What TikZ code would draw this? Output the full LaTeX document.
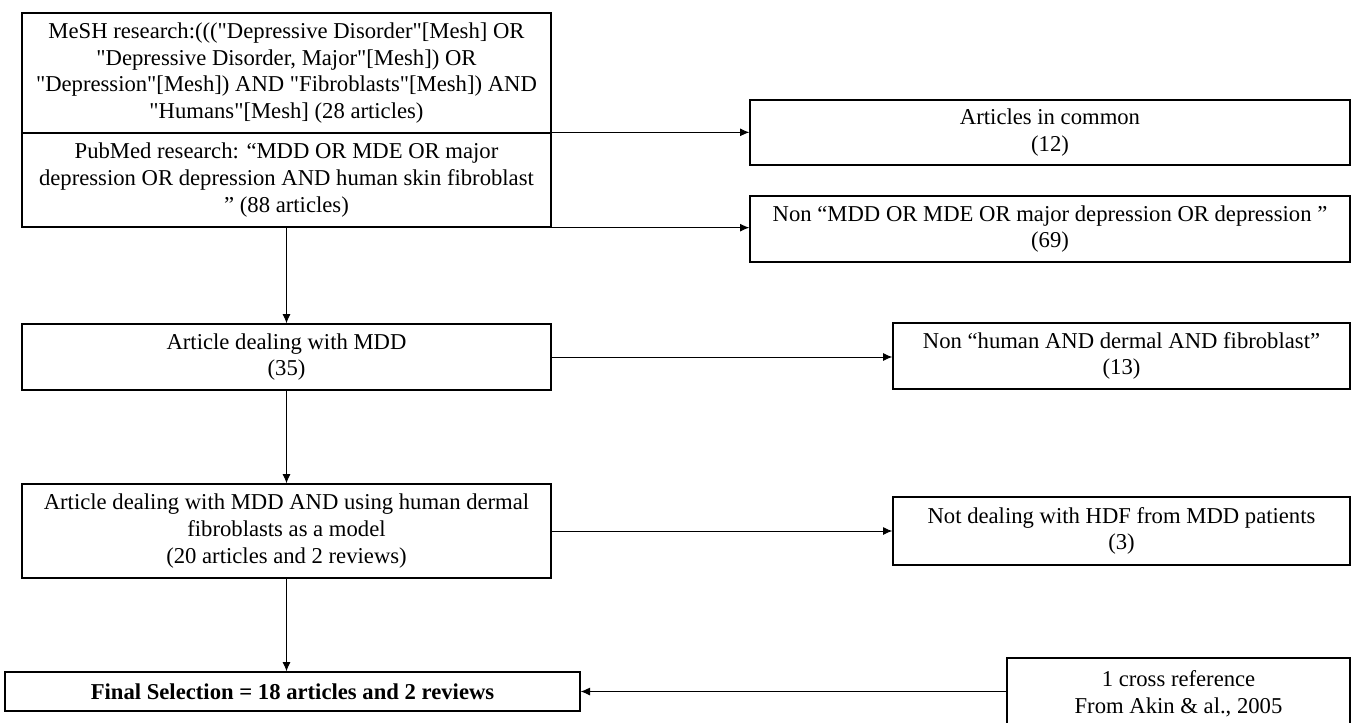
\documentclass[tikz,border=0pt]{standalone}
\usepackage{fontspec}
\setmainfont{Liberation Serif}[Ligatures=TeXOff]
\usetikzlibrary{arrows.meta}
\begin{document}
\begin{tikzpicture}[x=0.75pt,y=-0.75pt,
  box/.style={draw, line width=1pt, inner sep=0pt, align=center,
    font=\fontsize{17pt}{20pt}\selectfont},
  conn/.style={-{Latex[length=7pt,width=6pt]}, line width=0.7pt}]
\clip (0,0) rectangle (1351,722);
\fill[white] (0,0) rectangle (1351,722);
\node[box, minimum width=396.75pt, minimum height=90pt] (mesh) at (286.5,73)
  {MeSH research:((("Depressive Disorder"[Mesh] OR\\ "Depressive Disorder, Major"[Mesh]) OR\\ "Depression"[Mesh]) AND "Fibroblasts"[Mesh]) AND\\ "Humans"[Mesh] (28 articles)};
\node[box, minimum width=396.75pt, minimum height=70.5pt] (pub) at (286.5,180)
  {PubMed research: “MDD OR MDE OR major\\ depression OR depression AND human skin fibroblast\\ ” (88 articles)};
\node[box, minimum width=450pt, minimum height=48.75pt] (common) at (1050,132.5)
  {Articles in common\\ (12)};
\node[box, minimum width=450pt, minimum height=49.5pt] (nonmdd) at (1050,229)
  {Non “MDD OR MDE OR major depression OR depression ”\\ (69)};
\node[box, minimum width=396.75pt, minimum height=49.5pt] (mdd) at (286.5,357)
  {Article dealing with MDD\\ (35)};
\node[box, minimum width=342.75pt, minimum height=49.5pt] (nonhuman) at (1121.5,356)
  {Non “human AND dermal AND fibroblast”\\ (13)};
\node[box, minimum width=396.75pt, minimum height=70.5pt] (mddand) at (286.5,531)
  {Article dealing with MDD AND using human dermal\\ fibroblasts as a model\\ (20 articles and 2 reviews)};
\node[box, minimum width=342.75pt, minimum height=51pt] (nothdf) at (1121.5,531)
  {Not dealing with HDF from MDD patients\\ (3)};
\node[box, minimum width=431.25pt, minimum height=29.25pt] (final) at (292.5,691.5)
  {\bfseries Final Selection = 18 articles and 2 reviews};
\node[box, minimum width=257.25pt, minimum height=54pt] (cross) at (1178.5,694)
  {1 cross reference\\ From Akin \& al., 2005};
\draw[conn] (pub.north east) -- (pub.north east -| common.west);
\draw[conn] (pub.south east) -- (pub.south east -| nonmdd.west);
\draw[conn] (pub.south) -- (mdd.north);
\draw[conn] (mdd.east) -- (mdd.east -| nonhuman.west);
\draw[conn] (mdd.south) -- (mddand.north);
\draw[conn] (mddand.east) -- (nothdf.west);
\draw[conn] (mddand.south) -- (mddand.south |- final.north);
\draw[conn] (final.east -| cross.west) -- (final.east);
\end{tikzpicture}
\end{document}
